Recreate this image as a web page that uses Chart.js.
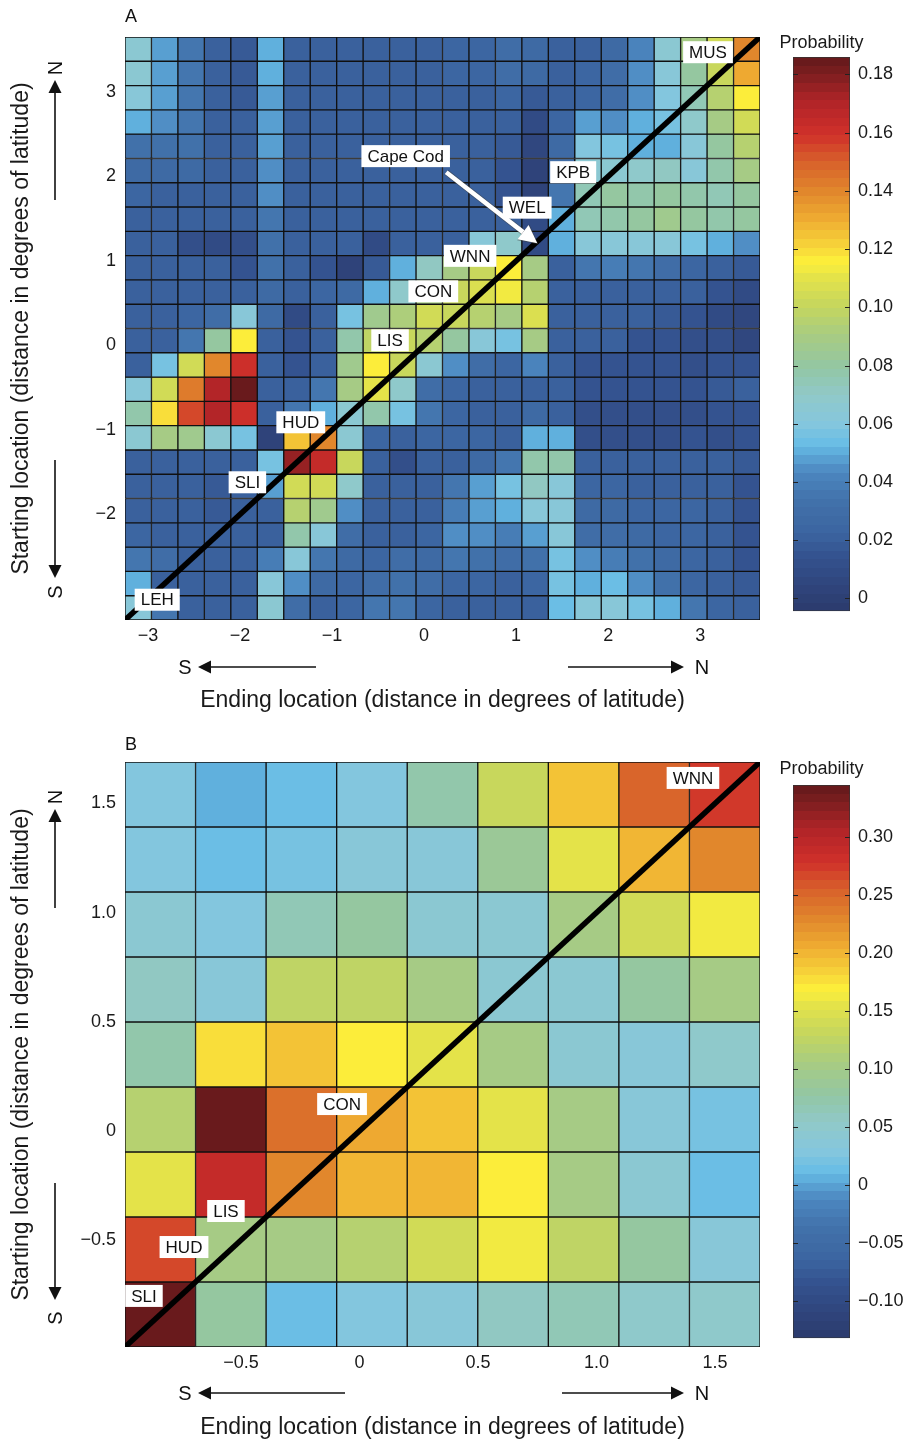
<!DOCTYPE html>
<html>
<head>
<meta charset="utf-8">
<script src="https://cdn.jsdelivr.net/npm/chart.js@4.4.1/dist/chart.umd.min.js"></script>
<style>
  html, body { margin: 0; padding: 0; background: #fff; overflow: hidden; }
  #page { position: relative; width: 910px; height: 1441px; }
  canvas { position: absolute; }
</style>
</head>
<body>
<div id="page">
  <canvas id="heatA" width="770" height="720" style="left:0;top:0"></canvas>
  <canvas id="barA" width="130" height="600" style="left:780px;top:30px"></canvas>
  <canvas id="heatB" width="770" height="716" style="left:0;top:725px"></canvas>
  <canvas id="barB" width="130" height="597" style="left:780px;top:760px"></canvas>
</div>
<script>
// --- panel A: 24 x 24 bins, rows listed from north (top) to south (bottom)
const binsA = { lo: -3.25, hi: 3.65 };
const probA = [
  [0.065,0.048,0.035,0.022,0.018,0.052,0.022,0.022,0.022,0.022,0.022,0.022,0.025,0.025,0.030,0.028,0.022,0.022,0.028,0.043,0.065,0.090,0.105,0.140],
  [0.065,0.048,0.035,0.022,0.018,0.052,0.022,0.020,0.022,0.022,0.022,0.022,0.025,0.025,0.030,0.028,0.022,0.025,0.030,0.045,0.063,0.080,0.100,0.130],
  [0.062,0.047,0.035,0.022,0.018,0.047,0.022,0.022,0.022,0.022,0.022,0.022,0.022,0.022,0.025,0.018,0.022,0.025,0.030,0.045,0.060,0.075,0.095,0.115],
  [0.052,0.044,0.035,0.022,0.020,0.047,0.022,0.022,0.022,0.022,0.022,0.022,0.022,0.022,0.022,0.008,0.025,0.048,0.045,0.052,0.058,0.068,0.090,0.104],
  [0.034,0.034,0.032,0.022,0.022,0.047,0.022,0.020,0.022,0.022,0.022,0.022,0.022,0.022,0.018,0.005,0.028,0.060,0.058,0.052,0.050,0.062,0.080,0.095],
  [0.028,0.028,0.028,0.022,0.022,0.045,0.022,0.020,0.022,0.022,0.022,0.022,0.022,0.022,0.015,0.003,0.030,0.065,0.065,0.068,0.070,0.064,0.078,0.088],
  [0.025,0.022,0.022,0.022,0.022,0.045,0.022,0.022,0.022,0.022,0.022,0.022,0.022,0.020,0.015,0.003,0.035,0.075,0.080,0.078,0.080,0.078,0.075,0.080],
  [0.022,0.020,0.022,0.022,0.022,0.036,0.022,0.022,0.022,0.022,0.022,0.022,0.022,0.022,0.020,0.008,0.050,0.075,0.078,0.080,0.085,0.080,0.078,0.080],
  [0.022,0.020,0.012,0.010,0.012,0.034,0.022,0.022,0.022,0.008,0.022,0.022,0.022,0.062,0.068,0.008,0.050,0.062,0.064,0.063,0.062,0.058,0.052,0.044],
  [0.022,0.022,0.022,0.020,0.015,0.032,0.022,0.015,0.002,0.018,0.050,0.070,0.090,0.100,0.115,0.088,0.022,0.035,0.038,0.035,0.030,0.025,0.022,0.018],
  [0.022,0.022,0.022,0.022,0.022,0.028,0.022,0.025,0.028,0.050,0.068,0.090,0.100,0.108,0.112,0.095,0.022,0.020,0.020,0.020,0.020,0.020,0.015,0.008],
  [0.022,0.022,0.025,0.030,0.062,0.028,0.008,0.022,0.058,0.085,0.093,0.104,0.100,0.095,0.090,0.108,0.022,0.022,0.020,0.020,0.018,0.015,0.010,0.005],
  [0.022,0.022,0.035,0.080,0.115,0.022,0.015,0.022,0.078,0.098,0.102,0.095,0.080,0.064,0.058,0.088,0.022,0.022,0.022,0.015,0.015,0.012,0.012,0.005],
  [0.022,0.058,0.104,0.140,0.160,0.022,0.015,0.022,0.085,0.116,0.100,0.065,0.044,0.030,0.025,0.043,0.020,0.015,0.015,0.015,0.015,0.012,0.015,0.015],
  [0.062,0.104,0.142,0.170,0.185,0.022,0.022,0.035,0.088,0.110,0.068,0.030,0.025,0.020,0.020,0.022,0.020,0.015,0.015,0.015,0.015,0.015,0.018,0.020],
  [0.078,0.118,0.155,0.170,0.160,0.022,0.035,0.050,0.065,0.078,0.058,0.035,0.025,0.022,0.020,0.028,0.022,0.012,0.012,0.012,0.012,0.012,0.015,0.015],
  [0.066,0.088,0.085,0.066,0.057,0.003,0.125,0.140,0.066,0.025,0.022,0.025,0.025,0.025,0.022,0.052,0.052,0.012,0.012,0.012,0.012,0.015,0.012,0.015],
  [0.022,0.022,0.022,0.020,0.020,0.058,0.175,0.163,0.100,0.022,0.012,0.022,0.022,0.028,0.035,0.078,0.078,0.020,0.020,0.022,0.022,0.022,0.022,0.018],
  [0.022,0.022,0.022,0.018,0.022,0.048,0.104,0.104,0.068,0.022,0.022,0.022,0.035,0.048,0.058,0.072,0.064,0.025,0.025,0.022,0.022,0.022,0.022,0.015],
  [0.022,0.022,0.022,0.018,0.020,0.022,0.094,0.085,0.045,0.022,0.022,0.022,0.038,0.048,0.052,0.064,0.062,0.028,0.028,0.025,0.025,0.025,0.022,0.015],
  [0.025,0.022,0.022,0.020,0.022,0.022,0.078,0.062,0.030,0.022,0.022,0.025,0.045,0.044,0.040,0.047,0.062,0.030,0.030,0.028,0.025,0.025,0.022,0.015],
  [0.035,0.030,0.022,0.022,0.020,0.038,0.064,0.035,0.028,0.025,0.030,0.028,0.035,0.032,0.030,0.032,0.058,0.045,0.040,0.032,0.028,0.025,0.022,0.015],
  [0.052,0.022,0.022,0.022,0.020,0.062,0.045,0.028,0.025,0.030,0.032,0.030,0.025,0.025,0.022,0.025,0.058,0.052,0.053,0.045,0.032,0.025,0.022,0.018],
  [0.062,0.035,0.022,0.022,0.020,0.066,0.030,0.022,0.025,0.035,0.035,0.025,0.022,0.022,0.020,0.022,0.054,0.062,0.062,0.058,0.052,0.035,0.025,0.022]
];
const ticksA = [-3, -2, -1, 0, 1, 2, 3];
const yTicksA = [-2, -1, 0, 1, 2, 3];
const scaleA = { min: -0.0044, max: 0.186 };
const cbTicksA = [0, 0.02, 0.04, 0.06, 0.08, 0.10, 0.12, 0.14, 0.16, 0.18];
const cbLabelsA = ['0', '0.02', '0.04', '0.06', '0.08', '0.10', '0.12', '0.14', '0.16', '0.18'];

// --- panel B: 9 x 9 bins
const binsB = { lo: -0.99, hi: 1.69 };
const probB = [
  [0.025,0.005,0.012,0.025,0.070,0.130,0.190,0.255,0.275],
  [0.030,0.010,0.018,0.032,0.035,0.090,0.155,0.200,0.228],
  [0.045,0.025,0.062,0.078,0.040,0.040,0.100,0.140,0.160],
  [0.055,0.035,0.128,0.128,0.100,0.040,0.040,0.078,0.105],
  [0.075,0.175,0.190,0.167,0.155,0.105,0.040,0.035,0.050],
  [0.120,0.345,0.245,0.210,0.195,0.155,0.105,0.035,0.020],
  [0.155,0.290,0.228,0.200,0.203,0.167,0.105,0.040,0.015],
  [0.270,0.105,0.105,0.120,0.140,0.160,0.128,0.078,0.035],
  [0.345,0.078,0.015,0.030,0.032,0.055,0.065,0.048,0.048]
];
const ticksB = [-0.5, 0, 0.5, 1.0, 1.5];
const tickLabelsB = ['\u22120.5', '0', '0.5', '1.0', '1.5'];
const scaleB = { min: -0.132, max: 0.345 };
const cbTicksB = [-0.10, -0.05, 0, 0.05, 0.10, 0.15, 0.20, 0.25, 0.30];
const cbLabelsB = ['\u22120.10', '\u22120.05', '0', '0.05', '0.10', '0.15', '0.20', '0.25', '0.30'];

// site labels: [name, ending, starting]
const sitesA = [['MUS', 3.085, 3.47], ['KPB', 1.62, 2.05], ['WEL', 1.12, 1.63], ['WNN', 0.50, 1.06],
  ['CON', 0.10, 0.64], ['LIS', -0.37, 0.06], ['HUD', -1.34, -0.91], ['SLI', -1.92, -1.62], ['LEH', -2.90, -3.01]];
const sitesB = [['WNN', 1.407, 1.617], ['CON', -0.074, 0.123], ['LIS', -0.564, -0.367],
  ['HUD', -0.741, -0.532], ['SLI', -0.91, -0.756]];

// colour map (position 0..1 -> colour), 64 levels like the original
const cmap = [
  [0.00, '#2b3a6c'], [0.10, '#34528f'], [0.14, '#3b64a0'], [0.20, '#4272ab'], [0.25, '#4c86bf'],
  [0.28, '#5ba6d6'], [0.30, '#67bde6'], [0.34, '#86c7dd'], [0.39, '#90c9c8'], [0.44, '#93c6a3'],
  [0.50, '#a9cc80'], [0.55, '#c5d65e'], [0.60, '#e3e24a'], [0.63, '#fdf03a'], [0.66, '#f7d33a'],
  [0.71, '#eeaa31'], [0.76, '#e0852c'], [0.81, '#d8612b'], [0.86, '#d0302a'], [0.92, '#b02428'],
  [0.97, '#7c1e1f'], [1.00, '#62191b']
];
const LEVELS = 64;

function hex(c) { return [1, 3, 5].map(i => parseInt(c.substr(i, 2), 16)); }
function cmapAt(t) {
  t = Math.max(0, Math.min(1, t));
  for (let i = 1; i < cmap.length; i++) {
    if (t <= cmap[i][0]) {
      const [t0, c0] = cmap[i - 1], [t1, c1] = cmap[i];
      const f = (t - t0) / (t1 - t0), a = hex(c0), b = hex(c1);
      return 'rgb(' + a.map((v, k) => Math.round(v + (b[k] - v) * f)).join(',') + ')';
    }
  }
  return cmap[cmap.length - 1][1];
}
function colorFor(v, sc) {
  let k = Math.floor((v - sc.min) / (sc.max - sc.min) * LEVELS);
  k = Math.max(0, Math.min(LEVELS - 1, k));
  return cmapAt((k + 0.5) / LEVELS);
}
const minus = v => (v < 0 ? '\u2212' + Math.abs(v) : String(v));

const FONT = '"Liberation Sans", Arial, Helvetica, sans-serif';
Chart.defaults.font.family = FONT;
Chart.defaults.color = '#1a1a1a';

function arrow(ctx, x1, y1, x2, y2, head, half) {
  const a = Math.atan2(y2 - y1, x2 - x1);
  const bx = x2 - head * Math.cos(a), by = y2 - head * Math.sin(a);
  ctx.beginPath(); ctx.moveTo(x1, y1); ctx.lineTo(bx, by); ctx.stroke();
  ctx.beginPath(); ctx.moveTo(x2, y2);
  ctx.lineTo(bx + half * Math.sin(a), by - half * Math.cos(a));
  ctx.lineTo(bx - half * Math.sin(a), by + half * Math.cos(a));
  ctx.closePath(); ctx.fill();
}

// labels, compass arrows and panel letter
const decor = {
  id: 'decor',
  afterDraw(chart, args, o) {
    const { ctx, scales: { x2, y } } = chart;
    ctx.save();
    ctx.textAlign = 'center';
    ctx.textBaseline = 'middle';
    let sites = o.sites;
    if (o.cape) {
      const c = o.cape;
      ctx.lineCap = 'butt';
      ctx.strokeStyle = 'rgba(60,60,60,0.5)'; ctx.fillStyle = 'rgba(60,60,60,0.5)'; ctx.lineWidth = 6;
      arrow(ctx, x2.getPixelForValue(c.from[0]), y.getPixelForValue(c.from[1]),
        x2.getPixelForValue(c.to[0]) + 1, y.getPixelForValue(c.to[1]) + 1, 19, 10);
      ctx.strokeStyle = '#fff'; ctx.fillStyle = '#fff'; ctx.lineWidth = 4.5;
      arrow(ctx, x2.getPixelForValue(c.from[0]), y.getPixelForValue(c.from[1]),
        x2.getPixelForValue(c.to[0]), y.getPixelForValue(c.to[1]), 18, 9);
      sites = sites.concat([[c.name, c.at[0], c.at[1]]]);
    }
    ctx.font = '17px ' + FONT;
    sites.forEach(([name, sx, sy]) => {
      const px = x2.getPixelForValue(sx), py = y.getPixelForValue(sy);
      const w = ctx.measureText(name).width + 12;
      ctx.fillStyle = '#fff';
      ctx.fillRect(px - w / 2, py - 11, w, 22);
      ctx.fillStyle = '#111';
      ctx.fillText(name, px, py + 1);
    });

    ctx.fillStyle = '#111'; ctx.strokeStyle = '#111'; ctx.lineWidth = 1.6;
    ctx.font = '18px ' + FONT;
    ctx.textAlign = 'left';
    ctx.fillText(o.letter, 125, o.letterY);
    ctx.textAlign = 'center';
    ctx.font = '20px ' + FONT;
    const ax = o.axis;
    arrow(ctx, 55, ax.nTail, 55, ax.nTip, 13, 6.5);
    arrow(ctx, 55, ax.sTail, 55, ax.sTip, 13, 6.5);
    arrow(ctx, ax.wTail, ax.hy, 198, ax.hy, 13, 6.5);
    arrow(ctx, ax.eTail, ax.hy, 684, ax.hy, 13, 6.5);
    ctx.fillText('S', 185, ax.hy + 1);
    ctx.fillText('N', 702, ax.hy + 1);
    ctx.save(); ctx.translate(55, ax.nLab); ctx.rotate(-Math.PI / 2); ctx.fillText('N', 0, 1); ctx.restore();
    ctx.save(); ctx.translate(55, ax.sLab); ctx.rotate(-Math.PI / 2); ctx.fillText('S', 0, 1); ctx.restore();
    ctx.restore();
  }
};

function heatmap(id, m, bins, sc, xt, xtl, yt, ytl, axisH, titlePad, deco) {
  const n = m.length;
  const w = (bins.hi - bins.lo) / n;
  const datasets = m.map((row, r) => ({
    type: 'bar',
    data: row.map(() => [bins.hi - (r + 1) * w, bins.hi - r * w]),
    backgroundColor: row.map(v => colorFor(v, sc)),
    borderColor: '#111',
    borderWidth: 1,
    borderSkipped: false,
    barPercentage: 1,
    categoryPercentage: 1,
    grouped: false,
    order: 2
  }));
  // 1:1 line (start = end)
  datasets.push({
    type: 'line', xAxisID: 'x2', yAxisID: 'y',
    data: [{ x: bins.lo, y: bins.lo }, { x: bins.hi, y: bins.hi }],
    borderColor: '#000', borderWidth: 5.5, pointRadius: 0, order: 0
  });
  const tickFont = { size: 18 };
  return new Chart(document.getElementById(id), {
    type: 'bar',
    data: { labels: m[0].map((_, i) => 'c' + i), datasets },
    plugins: [decor],
    options: {
      responsive: false,
      animation: false,
      layout: { padding: { left: 0, top: 37, right: 10, bottom: 0 } },
      plugins: { legend: { display: false }, tooltip: { enabled: false }, decor: deco },
      scales: {
        x: { type: 'category', display: false, offset: true, stacked: true },
        x2: {
          type: 'linear', position: 'bottom', min: bins.lo, max: bins.hi, offset: false,
          afterBuildTicks: s => { s.ticks = xt.map(v => ({ value: v })); },
          afterFit: s => { s.height = axisH; },
          grid: { display: false, drawTicks: false, offset: false },
          border: { display: false },
          ticks: { padding: 5, font: tickFont, autoSkip: false, maxRotation: 0, callback: (v, i) => xtl[i] },
          title: { display: true, text: 'Ending location (distance in degrees of latitude)',
            font: { size: 23 }, padding: { top: 0, bottom: titlePad } }
        },
        y: {
          type: 'linear', position: 'left', min: bins.lo, max: bins.hi, offset: false,
          afterBuildTicks: s => { s.ticks = yt.map(v => ({ value: v })); },
          afterFit: s => { s.width = 125; },
          grid: { display: false, drawTicks: false },
          border: { display: false },
          ticks: { padding: 9, font: tickFont, autoSkip: false, callback: (v, i) => ytl[i] },
          title: { display: true, text: 'Starting location (distance in degrees of latitude)',
            font: { size: 23 }, padding: { top: 8, bottom: 0 } }
        }
      }
    }
  });
}

const cbarDecor = {
  id: 'cbarDecor',
  afterDraw(chart, args, o) {
    const { ctx, chartArea: a, scales: { y } } = chart;
    ctx.save();
    ctx.strokeStyle = '#222'; ctx.lineWidth = 1;
    y.ticks.forEach(t => {
      const py = Math.round(y.getPixelForValue(t.value)) + 0.5;
      ctx.beginPath();
      ctx.moveTo(a.left, py); ctx.lineTo(a.left + 5, py);
      ctx.moveTo(a.right - 5, py); ctx.lineTo(a.right, py);
      ctx.stroke();
    });
    ctx.fillStyle = '#1a1a1a';
    ctx.font = '18px ' + FONT;
    ctx.textAlign = 'center'; ctx.textBaseline = 'middle';
    ctx.fillText('Probability', (a.left + a.right) / 2, a.top - o.titleGap);
    ctx.restore();
  }
};

function colorbar(id, sc, ticks, labels, padTop, titleGap) {
  return new Chart(document.getElementById(id), {
    type: 'bar',
    data: {
      labels: [''],
      datasets: [{
        data: [[sc.min, sc.max]],
        backgroundColor: c => {
          const { chart } = c;
          const a = chart.chartArea;
          if (!a) return '#888';
          const g = chart.ctx.createLinearGradient(0, a.bottom, 0, a.top);
          for (let k = 0; k < LEVELS; k++) {
            const col = cmapAt((k + 0.5) / LEVELS);
            g.addColorStop(k / LEVELS, col);
            g.addColorStop((k + 1) / LEVELS, col);
          }
          return g;
        },
        borderColor: '#333', borderWidth: 1, borderSkipped: false,
        barPercentage: 1, categoryPercentage: 1
      }]
    },
    plugins: [cbarDecor],
    options: {
      responsive: false,
      animation: false,
      layout: { padding: { left: 13, top: padTop, right: 0, bottom: 10 } },
      plugins: { legend: { display: false }, tooltip: { enabled: false }, cbarDecor: { titleGap } },
      scales: {
        x: { display: false, offset: true },
        y: {
          position: 'right', min: sc.min, max: sc.max,
          afterBuildTicks: s => { s.ticks = ticks.map(v => ({ value: v })); },
          afterFit: s => { s.width = 60; },
          grid: { display: false, drawTicks: false },
          border: { display: false },
          ticks: { padding: 8, font: { size: 18 }, autoSkip: false, callback: (v, i) => labels[i] }
        }
      }
    }
  });
}

heatmap('heatA', probA, binsA, scaleA, ticksA, ticksA.map(minus), yTicksA, yTicksA.map(minus), 100, 6, {
  letter: 'A', letterY: 17, sites: sitesA,
  cape: { name: 'Cape Cod', at: [-0.20, 2.24], from: [0.24, 2.05], to: [1.23, 1.21] },
  axis: { nTail: 200, nTip: 80, nLab: 68, sTail: 460, sTip: 578, sLab: 592, hy: 667, wTail: 316, eTail: 568 }
});
colorbar('barA', scaleA, cbTicksA, cbLabelsA, 27, 14);

heatmap('heatB', probB, binsB, scaleB, ticksB, tickLabelsB, ticksB, tickLabelsB, 94, 0, {
  letter: 'B', letterY: 20, sites: sitesB,
  axis: { nTail: 183, nTip: 84, nLab: 72, sTail: 458, sTip: 575, sLab: 593, hy: 668, wTail: 345, eTail: 562 }
});
colorbar('barB', scaleB, cbTicksB, cbLabelsB, 25, 16);
</script>
</body>
</html>
